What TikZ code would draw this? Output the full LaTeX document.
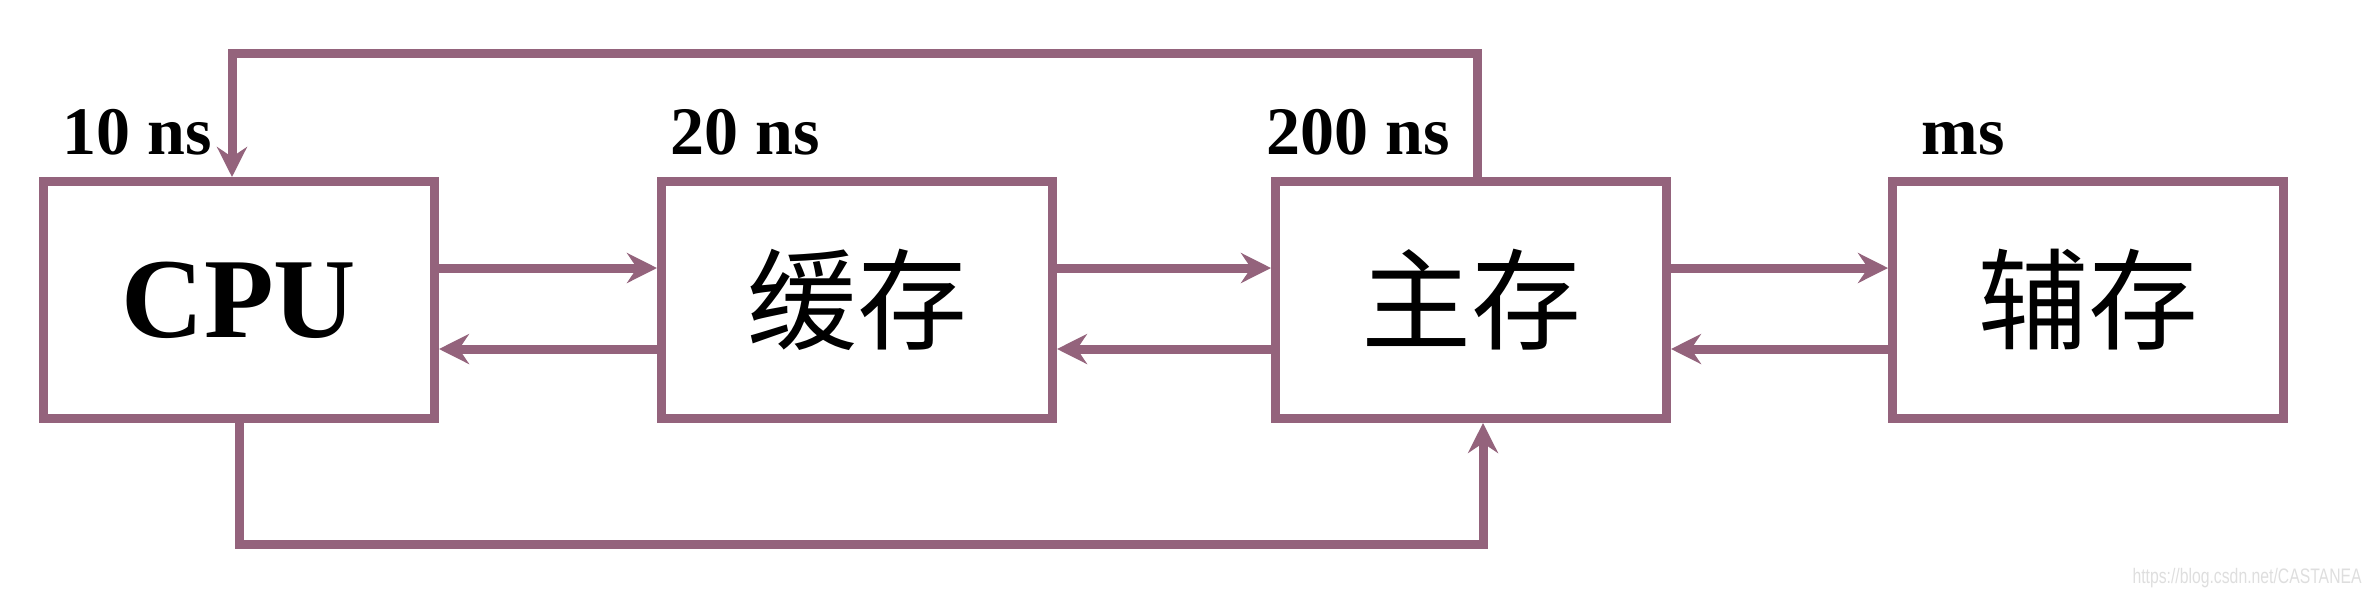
\documentclass[tikz,border=0pt]{standalone}
\usepackage{fontspec}
\setmainfont{Liberation Serif}
\newfontfamily\cjk{Noto Sans CJK SC}
\newfontfamily\wmfont{Liberation Sans}
\usetikzlibrary{arrows.meta,calc}
\definecolor{mauve}{RGB}{148,99,124}
\begin{document}
\begin{tikzpicture}[x=0.5pt,y=-0.5pt,
  blk/.style={draw=mauve,line width=4.5pt,minimum width=195.5pt,minimum height=118.5pt,inner sep=0pt},
  conn/.style={draw=mauve,line width=4.5pt},
  arr/.style={conn,-{Stealth[length=15pt,width=15pt,inset=5pt]}},
  lbl/.style={anchor=base west,inner sep=0pt,font=\bfseries\fontsize{34}{38}\selectfont},
  cn/.style={font=\cjk\fontsize{55}{60}\selectfont}]
\useasboundingbox (0,0) rectangle (2370,596);
\node[blk,font=\bfseries\fontsize{57}{60}\selectfont] (cpu) at (239,300) {CPU};
\node[blk,cn] (cache) at (857,300) {缓存};
\node[blk,cn] (main) at (1471,300) {主存};
\node[blk,cn] (aux) at (2088,300) {辅存};
\node[lbl] (l1) at (62,154) {10 ns};
\node[lbl] (l2) at (670,154) {20 ns};
\node[lbl] (l3) at (1266,154) {200 ns};
\node[lbl] (l4) at (1921,154) {ms};
\coordinate (f) at (0,268);
\coordinate (b) at (0,349);
\draw[arr] (cpu.east |- f) -- (cache.west |- f);
\draw[arr] (cache.west |- b) -- (cpu.east |- b);
\draw[arr] (cache.east |- f) -- (main.west |- f);
\draw[arr] (main.west |- b) -- (cache.east |- b);
\draw[arr] (main.east |- f) -- (aux.west |- f);
\draw[arr] (aux.west |- b) -- (main.east |- b);
\coordinate (tl) at (232,53);
\coordinate (tr) at (1477,53);
\draw[arr] (main.north -| tr) -- (tr) -- (tl) -- (cpu.north -| tl);
\coordinate (bl) at (239,544);
\coordinate (br) at (1483,544);
\draw[arr] (cpu.south -| bl) -- (bl) -- (br) -- (main.south -| br);
\node[anchor=base east,inner sep=0pt,text=black!13,font=\wmfont\fontsize{10.5}{12}\selectfont] (wm) at (2362,583) {\scalebox{0.75}[1]{https://blog.csdn.net/CASTANEA}};
\end{tikzpicture}
\end{document}
